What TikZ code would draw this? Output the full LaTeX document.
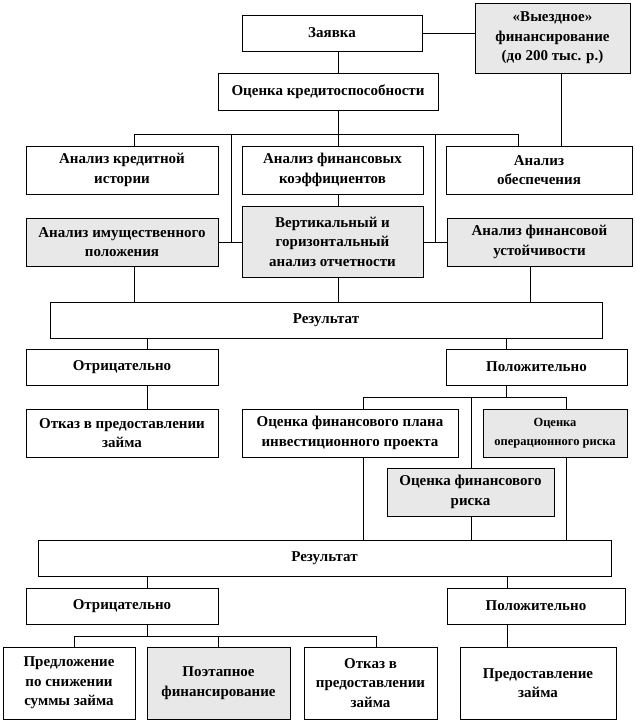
\documentclass[tikz,border=0pt]{standalone}
\usepackage{fontspec}
\setmainfont{Liberation Serif}
\definecolor{boxgray}{RGB}{232,232,232}
\newcommand{\mkbox}[7]{\node[#6, minimum width={(#4)-(#2)}, minimum height={(#5)-(#3)}] (#1) at ({((#2)+(#4))/2},{((#3)+(#5))/2}) {#7};}
\tikzset{
  box/.style={draw=black, line width=1pt, fill=white, align=center, inner sep=0pt,
    font=\bfseries\fontsize{15}{19.5}\selectfont},
  graybox/.style={box, fill=boxgray},
  smallgraybox/.style={graybox, font=\bfseries\fontsize{12.5}{19.5}\selectfont},
  conn/.style={line width=1pt, line cap=rect}
}
\begin{document}
\begin{tikzpicture}[x=1pt,y=-1pt]
\fill[white] (0,0) rectangle (635,723);
\useasboundingbox (0,0) rectangle (635,723);
% boxes
\mkbox{zayavka}{242}{15}{422}{51}{box}{Заявка}
\mkbox{vyezd}{475}{3}{630}{73}{graybox}{«Выездное»\\финансирование\\(до 200 тыс. р.)}
\mkbox{ocenka}{218}{73}{438}{110}{box}{Оценка кредитоспособности}
\mkbox{kred}{26}{146}{218}{194}{box}{Анализ кредитной\\истории}
\mkbox{fincoef}{242}{146}{423}{194}{box}{Анализ финансовых\\коэффициентов}
\mkbox{obesp}{446}{146}{632}{194}{box}{Анализ\\обеспечения}
\mkbox{imush}{26}{218}{218}{266}{graybox}{Анализ имущественного\\положения}
\mkbox{vert}{242}{206}{423}{277}{graybox}{Вертикальный и\\горизонтальный\\анализ отчетности}
\mkbox{ustoich}{447}{218}{632}{266}{graybox}{Анализ финансовой\\устойчивости}
\mkbox{rez1}{50}{302}{602}{338}{box}{Результат}
\mkbox{neg1}{26}{349}{218}{385}{box}{Отрицательно}
\mkbox{pos1}{446}{349}{627}{385}{box}{Положительно}
\mkbox{otkaz1}{26}{409}{218}{457}{box}{Отказ в предоставлении\\займа}
\mkbox{finplan}{242}{409}{458}{457}{box}{Оценка финансового плана\\инвестиционного проекта}
\mkbox{operisk}{483}{409}{627}{457}{smallgraybox}{Оценка\\операционного риска}
\mkbox{finrisk}{387}{468}{554}{516}{graybox}{Оценка финансового\\риска}
\mkbox{rez2}{38}{540}{611}{576}{box}{Результат}
\mkbox{neg2}{26}{588}{218}{624}{box}{Отрицательно}
\mkbox{pos2}{447}{588}{625}{624}{box}{Положительно}
\mkbox{predl}{3}{647}{135}{719}{box}{Предложение\\по снижении\\суммы займа}
\mkbox{poetap}{147}{647}{290}{719}{graybox}{Поэтапное\\финансирование}
\mkbox{otkaz2}{304}{647}{437}{719}{box}{Отказ в\\предоставлении\\займа}
\mkbox{predost}{460}{647}{616}{719}{box}{Предоставление\\займа}
% column and bus coordinates
\coordinate (xA) at (338,0);
\coordinate (xB) at (134,0);
\coordinate (xC) at (231,0);
\coordinate (xD) at (435,0);
\coordinate (xE) at (518,0);
\coordinate (xF) at (561,0);
\coordinate (xG) at (530,0);
\coordinate (xH) at (147,0);
\coordinate (xI) at (506,0);
\coordinate (xJ) at (363,0);
\coordinate (xK) at (471,0);
\coordinate (xL) at (566,0);
\coordinate (xM) at (74,0);
\coordinate (xN) at (218,0);
\coordinate (xO) at (376,0);
\coordinate (xP) at (507,0);
\coordinate (b1) at (0,134);
\coordinate (b2) at (0,397);
\coordinate (b3) at (0,636);
% connectors
\draw[conn] (zayavka.east) -- (zayavka.east -| vyezd.west);
\draw[conn] (zayavka.south -| xA) -- (ocenka.north -| xA);
\draw[conn] (ocenka.south -| xA) -- (xA |- b1);
\draw[conn] (kred.north -| xB) -- (xB |- b1) -- (xE |- b1) -- (obesp.north -| xE);
\draw[conn] (fincoef.north -| xA) -- (xA |- b1);
\draw[conn] (xC |- b1) -- (xC |- imush.east);
\draw[conn] (imush.east) -- (vert.west |- imush.east);
\draw[conn] (xD |- b1) -- (xD |- ustoich.west);
\draw[conn] (vert.east |- ustoich.west) -- (ustoich.west);
\draw[conn] (vyezd.south -| xF) -- (obesp.north -| xF);
\draw[conn] (fincoef.south -| xA) -- (vert.north -| xA);
\draw[conn] (imush.south -| xB) -- (rez1.north -| xB);
\draw[conn] (vert.south -| xA) -- (rez1.north -| xA);
\draw[conn] (ustoich.south -| xG) -- (rez1.north -| xG);
\draw[conn] (rez1.south -| xH) -- (neg1.north -| xH);
\draw[conn] (neg1.south -| xH) -- (otkaz1.north -| xH);
\draw[conn] (rez1.south -| xI) -- (pos1.north -| xI);
\draw[conn] (pos1.south -| xI) -- (xI |- b2);
\draw[conn] (finplan.north -| xJ) -- (xJ |- b2) -- (xL |- b2) -- (operisk.north -| xL);
\draw[conn] (xK |- b2) -- (finrisk.north -| xK);
\draw[conn] (finplan.south -| xJ) -- (rez2.north -| xJ);
\draw[conn] (finrisk.south -| xK) -- (rez2.north -| xK);
\draw[conn] (operisk.south -| xL) -- (rez2.north -| xL);
\draw[conn] (rez2.south -| xH) -- (neg2.north -| xH);
\draw[conn] (rez2.south -| xP) -- (pos2.north -| xP);
\draw[conn] (neg2.south -| xH) -- (xH |- b3);
\draw[conn] (predl.north -| xM) -- (xM |- b3) -- (xO |- b3) -- (otkaz2.north -| xO);
\draw[conn] (xN |- b3) -- (poetap.north -| xN);
\draw[conn] (pos2.south -| xP) -- (predost.north -| xP);
\end{tikzpicture}
\end{document}
